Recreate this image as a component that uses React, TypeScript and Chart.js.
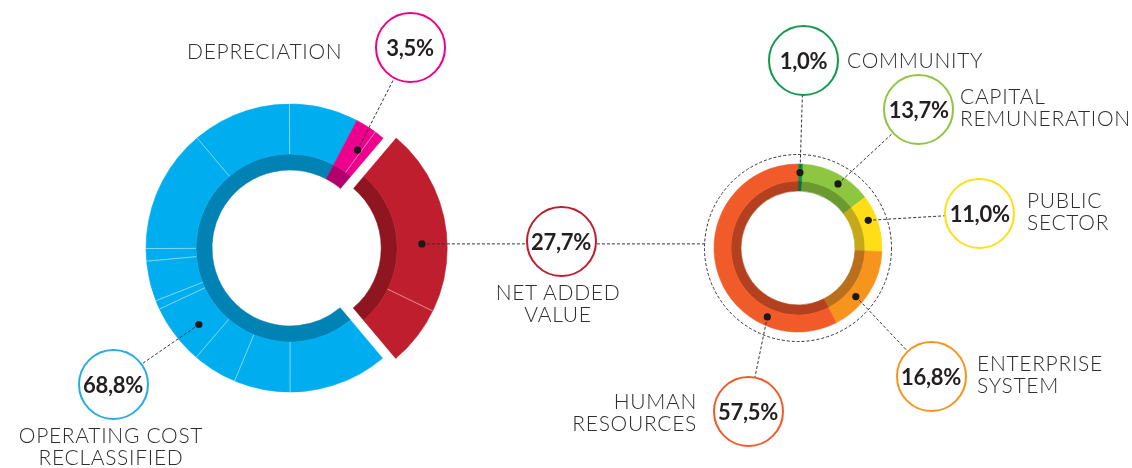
import React, { useEffect, useRef } from 'react';
import { Chart, registerables } from 'chart.js';

Chart.register(...registerables);

// ---------------- data ----------------
const leftCategories = ['OPERATING COST\nRECLASSIFIED', 'DEPRECIATION', 'NET ADDED\nVALUE'];
const leftValues = [68.8, 3.5, 27.7];
const leftPercentLabels = ['68,8%', '3,5%', '27,7%'];
// sub-portions visible as faint lines inside each left segment
const operatingParts = [11.1, 6.3, 5.0, 6.75, 1.0, 4.5, 1.4, 13.9, 11.1, 7.75];
const depreciationParts = [2.4, 1.1];
const netAddedParts = [21.0, 6.7];

const rightCategories = ['COMMUNITY', 'CAPITAL\nREMUNERATION', 'PUBLIC\nSECTOR', 'ENTERPRISE\nSYSTEM', 'HUMAN\nRESOURCES'];
const rightValues = [1.0, 13.7, 11.0, 16.8, 57.5];
const rightPercentLabels = ['1,0%', '13,7%', '11,0%', '16,8%', '57,5%'];

// ---------------- styles / layout ----------------
const W = 1132;
const H = 468;
const leftParts = [operatingParts, depreciationParts, netAddedParts];

const LEFT = { cx: 290, cy: 248, r: 144, cut: 78, dark: 16, shift: 13 };
const RIGHT = { cx: 798, cy: 248, r: 84, cut: 57, dark: 10, ring: 93.5 };

const leftOuterColors = ['#00aeef', '#ec008c', '#be1e2d'];
const leftInnerColors = ['#0082b4', '#b0006b', '#8f1620'];
const rightOuterColors = ['#12924a', '#8dc63f', '#ffde17', '#f7941d', '#f15a29'];
const rightInnerColors = ['#0c6e37', '#6a9a2f', '#c4aa1a', '#b96f1c', '#b3401f'];

type Note = {
  bx: number; by: number; color: string; dotAngle: number;
  lx: number; ly: number; align: 'left' | 'right' | 'center';
};

const leftNotes: Note[] = [
  { bx: 113, by: 384, color: '#29abe2', dotAngle: 230, lx: 111, ly: 424, align: 'center' },
  { bx: 410, by: 47, color: '#ec008c', dotAngle: 34.6, lx: 187, ly: 40, align: 'left' },
  { bx: 561, by: 241, color: '#be1e2d', dotAngle: 88, lx: 558, ly: 281, align: 'center' },
];
const rightNotes: Note[] = [
  { bx: 803.5, by: 60, color: '#109a4a', dotAngle: 1.5, lx: 847, ly: 49, align: 'left' },
  { bx: 918.7, by: 109, color: '#8dc63f', dotAngle: 32, lx: 960, ly: 85, align: 'left' },
  { bx: 979.7, by: 213.7, color: '#ffde17', dotAngle: 68.5, lx: 1027, ly: 189, align: 'left' },
  { bx: 931, by: 376, color: '#f7941d', dotAngle: 130, lx: 977, ly: 352, align: 'left' },
  { bx: 748, by: 411, color: '#f15a29', dotAngle: 204, lx: 697, ly: 390, align: 'right' },
];

const rad = (deg: number) => ((deg - 90) * Math.PI) / 180;

function arcCenter(el: any) {
  const p = el.getProps(['x', 'y', 'startAngle', 'endAngle', 'innerRadius', 'outerRadius']);
  const off = (el.options.offset || 0) / 4;
  const half = (p.startAngle + p.endAngle) / 2;
  return { ...p, cx: p.x + Math.cos(half) * off, cy: p.y + Math.sin(half) * off };
}

function dashedLine(ctx: CanvasRenderingContext2D, x1: number, y1: number, x2: number, y2: number) {
  ctx.save();
  ctx.strokeStyle = '#333333';
  ctx.lineWidth = 1;
  ctx.setLineDash([3, 2]);
  ctx.beginPath();
  ctx.moveTo(x1, y1);
  ctx.lineTo(x2, y2);
  ctx.stroke();
  ctx.restore();
}

function dot(ctx: CanvasRenderingContext2D, x: number, y: number) {
  ctx.save();
  ctx.fillStyle = '#1a1a1a';
  ctx.beginPath();
  ctx.arc(x, y, 3.6, 0, Math.PI * 2);
  ctx.fill();
  ctx.restore();
}

const leftDecor = {
  id: 'leftDecor',
  afterDatasetsDraw(chart: any) {
    const ctx: CanvasRenderingContext2D = chart.ctx;
    const meta = chart.getDatasetMeta(0);
    const dots: { x: number; y: number }[] = [];
    meta.data.forEach((el: any, i: number) => {
      const g = arcCenter(el);
      const parts = leftParts[i];
      const total = parts.reduce((a, b) => a + b, 0);
      let cum = 0;
      ctx.save();
      ctx.strokeStyle = 'rgba(255,255,255,0.5)';
      ctx.lineWidth = 1;
      for (let k = 0; k < parts.length - 1; k++) {
        cum += parts[k];
        const a = g.startAngle + (cum / total) * (g.endAngle - g.startAngle);
        ctx.beginPath();
        ctx.moveTo(g.cx + Math.cos(a) * g.innerRadius, g.cy + Math.sin(a) * g.innerRadius);
        ctx.lineTo(g.cx + Math.cos(a) * g.outerRadius, g.cy + Math.sin(a) * g.outerRadius);
        ctx.stroke();
      }
      ctx.restore();
      const n = leftNotes[i];
      const rm = (g.innerRadius + g.outerRadius) / 2;
      const dx = g.cx + Math.cos(rad(n.dotAngle)) * rm;
      const dy = g.cy + Math.sin(rad(n.dotAngle)) * rm;
      if (i === 2) {
        const ex = RIGHT.cx - Math.sqrt(RIGHT.ring * RIGHT.ring - (dy - RIGHT.cy) * (dy - RIGHT.cy));
        dashedLine(ctx, dx, dy, ex, dy);
      } else {
        dashedLine(ctx, dx, dy, n.bx, n.by);
      }
      dots.push({ x: dx, y: dy });
    });
    dots.forEach((d) => dot(ctx, d.x, d.y));
  },
};

const rightDecor = {
  id: 'rightDecor',
  beforeDatasetsDraw(chart: any) {
    const ctx: CanvasRenderingContext2D = chart.ctx;
    const el = chart.getDatasetMeta(0).data[0];
    const g = arcCenter(el);
    ctx.save();
    ctx.strokeStyle = '#333333';
    ctx.lineWidth = 1;
    ctx.setLineDash([3, 2]);
    ctx.beginPath();
    ctx.arc(g.cx, g.cy, RIGHT.ring, 0, Math.PI * 2);
    ctx.stroke();
    ctx.restore();
  },
  afterDatasetsDraw(chart: any) {
    const ctx: CanvasRenderingContext2D = chart.ctx;
    const meta = chart.getDatasetMeta(0);
    const dots: { x: number; y: number }[] = [];
    meta.data.forEach((el: any, i: number) => {
      const g = arcCenter(el);
      const n = rightNotes[i];
      const rm = (g.innerRadius + g.outerRadius) / 2;
      const dx = g.cx + Math.cos(rad(n.dotAngle)) * rm;
      const dy = g.cy + Math.sin(rad(n.dotAngle)) * rm;
      dashedLine(ctx, dx, dy, n.bx, n.by);
      dots.push({ x: dx, y: dy });
    });
    dots.forEach((d) => dot(ctx, d.x, d.y));
  },
};

function baseOptions(radius: number, cutPct: string, rotation: number, padding: any) {
  return {
    responsive: false,
    maintainAspectRatio: false,
    animation: false as const,
    events: [] as any[],
    radius,
    cutout: cutPct,
    rotation,
    layout: { padding },
    plugins: { legend: { display: false }, tooltip: { enabled: false } },
  };
}

const labelBase: React.CSSProperties = {
  position: 'absolute',
  fontFamily: "Lato, 'Noto Sans', sans-serif",
  fontSize: 21,
  lineHeight: '22px',
  fontWeight: 300,
  color: '#2e2e2e',
  whiteSpace: 'pre',
  letterSpacing: 0.7,
};

function Label({ n, text }: { n: Note; text: string }) {
  const st: React.CSSProperties = { ...labelBase, top: n.ly };
  if (n.align === 'left') {
    st.left = n.lx;
  } else if (n.align === 'right') {
    st.right = W - n.lx;
    st.textAlign = 'right';
  } else {
    st.left = n.lx - 150;
    st.width = 300;
    st.textAlign = 'center';
  }
  return <div style={st}>{text}</div>;
}

function Bubble({ n, text }: { n: Note; text: string }) {
  const R = 35.5;
  return (
    <div
      style={{
        position: 'absolute',
        left: n.bx - R,
        top: n.by - R,
        width: R * 2,
        height: R * 2,
        boxSizing: 'border-box',
        border: `2px solid ${n.color}`,
        borderRadius: '50%',
        background: '#ffffff',
        display: 'flex',
        alignItems: 'center',
        justifyContent: 'center',
        fontFamily: "Lato, 'Noto Sans', sans-serif",
        fontWeight: 700,
        fontSize: 22,
        color: '#231f20',
        letterSpacing: -0.3,
      }}
    >
      {text}
    </div>
  );
}

export default function App() {
  const leftRef = useRef<HTMLCanvasElement>(null);
  const rightRef = useRef<HTMLCanvasElement>(null);

  useEffect(() => {
    const offs = leftValues.map((_, i) => (i === 2 ? LEFT.shift * 4 : 0));
    const left = new Chart(leftRef.current as HTMLCanvasElement, {
      type: 'doughnut',
      data: {
        labels: leftCategories,
        datasets: [
          {
            data: leftValues,
            backgroundColor: leftOuterColors,
            borderColor: leftOuterColors,
            borderWidth: 0.6,
            weight: LEFT.r - LEFT.cut - LEFT.dark,
            offset: offs,
          } as any,
          {
            data: leftValues,
            backgroundColor: leftInnerColors,
            borderColor: leftInnerColors,
            borderWidth: 0.6,
            weight: LEFT.dark,
            offset: offs,
          } as any,
        ],
      },
      options: baseOptions(LEFT.r, `${((LEFT.cut / LEFT.r) * 100).toFixed(2)}%`, 140, {
        left: 0,
        right: W - 2 * LEFT.cx,
        top: 2 * LEFT.cy - H,
        bottom: 0,
      }) as any,
      plugins: [leftDecor],
    });

    const right = new Chart(rightRef.current as HTMLCanvasElement, {
      type: 'doughnut',
      data: {
        labels: rightCategories,
        datasets: [
          {
            data: rightValues,
            backgroundColor: rightOuterColors,
            borderColor: rightOuterColors,
            borderWidth: 0.6,
            weight: RIGHT.r - RIGHT.cut - RIGHT.dark,
          } as any,
          {
            data: rightValues,
            backgroundColor: rightInnerColors,
            borderColor: rightInnerColors,
            borderWidth: 0.6,
            weight: RIGHT.dark,
          } as any,
        ],
      },
      options: baseOptions(RIGHT.r, `${((RIGHT.cut / RIGHT.r) * 100).toFixed(2)}%`, 0, {
        left: 2 * RIGHT.cx - W,
        right: 0,
        top: 2 * RIGHT.cy - H,
        bottom: 0,
      }) as any,
      plugins: [rightDecor],
    });

    return () => {
      left.destroy();
      right.destroy();
    };
  }, []);

  const canvasStyle: React.CSSProperties = { position: 'absolute', left: 0, top: 0, width: W, height: H };

  return (
    <div style={{ position: 'fixed', left: 0, top: 0, width: W, height: H, background: '#ffffff', overflow: 'hidden' }}>
      <canvas ref={leftRef} width={W} height={H} style={canvasStyle} />
      <canvas ref={rightRef} width={W} height={H} style={canvasStyle} />
      {leftNotes.map((n, i) => (
        <React.Fragment key={'l' + i}>
          <Bubble n={n} text={leftPercentLabels[i]} />
          <Label n={n} text={leftCategories[i]} />
        </React.Fragment>
      ))}
      {rightNotes.map((n, i) => (
        <React.Fragment key={'r' + i}>
          <Bubble n={n} text={rightPercentLabels[i]} />
          <Label n={n} text={rightCategories[i]} />
        </React.Fragment>
      ))}
    </div>
  );
}
